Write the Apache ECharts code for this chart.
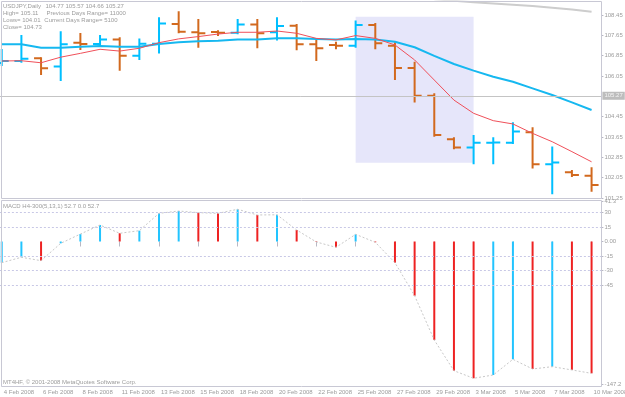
<!DOCTYPE html>
<html><head><meta charset="utf-8">
<script src="https://cdn.jsdelivr.net/npm/echarts@6/dist/echarts.min.js"></script>
<style>html,body{margin:0;padding:0;background:#fff}#c{width:625px;height:397px}</style>
</head><body><div id="c"></div>
<script>
// ---- data ----
const dates = ['4 Feb 2008','5 Feb 2008','6 Feb 2008','7 Feb 2008','8 Feb 2008','10 Feb 2008','11 Feb 2008','12 Feb 2008','13 Feb 2008','14 Feb 2008','15 Feb 2008','17 Feb 2008','18 Feb 2008','19 Feb 2008','20 Feb 2008','21 Feb 2008','22 Feb 2008','24 Feb 2008','25 Feb 2008','26 Feb 2008','27 Feb 2008','28 Feb 2008','29 Feb 2008','2 Mar 2008','3 Mar 2008','4 Mar 2008','5 Mar 2008','6 Mar 2008','7 Mar 2008','9 Mar 2008','10 Mar 2008'];
const open  = [106.56,106.64,106.75,106.42,107.36,107.31,107.49,106.85,107.32,108.10,107.77,107.78,107.75,108.08,107.77,108.03,107.30,107.27,107.24,108.06,107.24,106.36,105.27,103.56,103.23,103.42,103.42,103.83,102.57,102.26,102.12];
const high  = [107.07,107.62,106.75,107.77,107.70,107.62,107.53,107.49,108.32,108.56,108.25,107.81,108.25,108.25,108.32,108.06,107.47,107.36,108.19,108.10,107.34,106.57,105.33,103.60,103.69,103.60,104.19,103.99,103.23,102.31,102.42];
const low   = [106.48,106.61,106.13,105.89,107.11,107.29,106.29,106.72,106.97,107.77,107.20,107.66,107.73,107.18,107.49,107.10,106.68,107.14,107.20,107.14,105.93,105.04,103.70,103.20,102.61,102.61,103.41,102.45,101.43,102.11,101.53];
const close = [106.64,106.73,106.35,107.30,107.31,107.49,106.85,107.32,108.12,107.79,107.73,107.75,108.08,107.73,108.02,107.30,107.14,107.24,108.06,107.34,106.36,105.27,103.73,103.23,103.42,103.43,103.86,102.57,102.64,102.15,101.76];
const maBlue = [107.30,107.30,107.16,107.16,107.20,107.23,107.20,107.20,107.31,107.38,107.42,107.44,107.49,107.49,107.53,107.53,107.51,107.49,107.51,107.49,107.40,107.18,106.84,106.52,106.26,106.02,105.82,105.56,105.30,105.01,104.71];
const maRed  = [106.64,106.65,106.57,106.79,106.94,107.10,107.03,107.14,107.36,107.51,107.60,107.70,107.77,107.77,107.82,107.73,107.53,107.47,107.64,107.53,107.27,106.68,105.89,105.10,104.58,104.29,104.16,103.79,103.46,103.07,102.67];
const maGray = [null,null,null,null,null,null,null,null,null,null,null,null,null,null,null,null,null,null,null,null,null,null,109.07,109.01,108.95,108.90,108.85,108.80,108.74,108.67,108.58];
const macd = [-21.9,-16.3,-19.8,-1.9,7.7,17.0,8.5,11.2,29.1,31.5,29.8,29.1,33.3,27.4,27.6,11.9,-0.5,-6.0,7.4,-0.8,-21.9,-56.0,-101.8,-133.5,-141.3,-137.9,-121.7,-131.7,-129.3,-132.7,-136.2];
const signal = macd.slice(); // signal period 1
const priceTicks = [108.45,107.65,106.85,106.05,104.45,103.65,102.85,102.05,101.25];
const bidPrice = 105.27;
const macdTicks = [41.3,30,15,0,-15,-30,-45,-147.2];
const macdLevels = [30,15,-15,-30,-45];
const boxDates = ['25 Feb 2008','3 Mar 2008'];
const boxPrices = [108.38,102.63];
const headerLines = [
  ['USDJPY,Daily','104.77 105.57 104.66 105.27'],
  ['High= 105.11','Previous Days Range= 11000'],
  ['Lows= 104.01','Current Days Range= 5100'],
  ['Close= 104.73','']
];

// ---- styles ----
const BULL = '#00BFFF', BEAR = '#D2691E', TXT = '#9c9c9c', FONT = '"Liberation Sans", Arial, sans-serif';
const chart = echarts.init(document.getElementById('c'), null, {renderer:'canvas'});

const ohlc = dates.map((d,i)=>[i, open[i], high[i], low[i], close[i]]);
function renderOHLC(params, api){
  const i = api.value(0);
  const o = api.coord([i, api.value(1)]);
  const h = api.coord([i, api.value(2)]);
  const l = api.coord([i, api.value(3)]);
  const c = api.coord([i, api.value(4)]);
  const col = api.value(4) > api.value(1) ? BULL : BEAR;
  const st = {stroke: col, lineWidth: 2};
  const x = h[0], t = 7;
  return {type:'group', children:[
    {type:'line', shape:{x1:x, y1:h[1]-1, x2:x, y2:l[1]+1}, style:st},
    {type:'line', shape:{x1:x-t, y1:o[1], x2:x, y2:o[1]}, style:st},
    {type:'line', shape:{x1:x, y1:c[1], x2:x+t, y2:c[1]}, style:st}
  ]};
}

const graphics = [
  {type:'rect', shape:{x:1.5, y:1.5, width:600, height:197}, style:{fill:'none', stroke:'#c8c8d4', lineWidth:1}, z:100},
  {type:'rect', shape:{x:1.5, y:200.5, width:600, height:186}, style:{fill:'none', stroke:'#c8c8d4', lineWidth:1}, z:100},
  {type:'text', x:3, y:206.5, style:{text:'MACD H4-300(5,13,1) 52.7 0.0 52.7', fill:TXT, font:'6px '+FONT, verticalAlign:'middle'}, z:100},
  {type:'text', x:3, y:382.5, style:{text:'MT4HF, © 2001-2008 MetaQuotes Software Corp.', fill:TXT, font:'6px '+FONT, verticalAlign:'middle'}, z:100}
];
const hy = [6, 13, 20, 27.3];
const hx2 = [45.5, 46.5, 44.3, 45];
headerLines.forEach((ln,k)=>{
  graphics.push({type:'text', x:3, y:hy[k], style:{text:ln[0], fill:TXT, font:'6px '+FONT, verticalAlign:'middle'}, z:100});
  if (ln[1]) graphics.push({type:'text', x:hx2[k], y:hy[k], style:{text:ln[1], fill:TXT, font:'6px '+FONT, verticalAlign:'middle'}, z:100});
});

const gridLeft = -8.1, gridWidth = 609.5;
chart.setOption({
  backgroundColor:'#ffffff',
  animation:false,
  textStyle:{fontFamily:FONT},
  grid:[
    {left:gridLeft, width:gridWidth, top:1.5, height:197, containLabel:false, outerBoundsMode:'none'},
    {left:gridLeft, width:gridWidth, top:200.5, height:186, containLabel:false, outerBoundsMode:'none'}
  ],
  xAxis:[
    {type:'category', gridIndex:0, data:dates, boundaryGap:true, show:false},
    {type:'category', gridIndex:1, data:dates, boundaryGap:true,
     axisLine:{show:false},
     axisTick:{show:true, interval:1, alignWithLabel:true, length:5, lineStyle:{color:'#b8b8c4'}},
     axisLabel:{interval:1, align:'left', fontSize:6, color:TXT, margin:3, padding:[0,0,0,2], fontFamily:FONT, hideOverlap:false}}
  ],
  yAxis:[
    {type:'value', gridIndex:0, position:'right', min:101.2256, max:108.9815, scale:true,
     splitLine:{show:false}, axisLine:{show:false},
     axisTick:{show:true, length:2, customValues:priceTicks, lineStyle:{color:'#b8b8c4'}},
     axisLabel:{customValues:priceTicks, fontSize:6, color:TXT, margin:3, fontFamily:FONT, formatter:v=>v.toFixed(2)}},
    {type:'value', gridIndex:1, position:'right', min:-149.79, max:42.36,
     splitLine:{show:false}, axisLine:{show:false},
     axisTick:{show:true, length:2, customValues:macdTicks, lineStyle:{color:'#b8b8c4'}},
     axisLabel:{customValues:macdTicks, fontSize:6, color:TXT, margin:3, fontFamily:FONT, formatter:v=>v===0?'0.00':String(v)}}
  ],
  graphic: graphics,
  series:[
    {type:'line', name:'box', xAxisIndex:0, yAxisIndex:0, data:[], silent:true,
     markArea:{silent:true, itemStyle:{color:'#e6e6fa'}, data:[[{xAxis:boxDates[0], yAxis:boxPrices[0]},{xAxis:boxDates[1], yAxis:boxPrices[1]}]]}},
    {type:'line', name:'bid', xAxisIndex:0, yAxisIndex:0, data:[], silent:true,
     markLine:{silent:true, symbol:'none', lineStyle:{color:'#c4c4c4', width:1, type:'solid'},
       label:{show:true, position:'end', distance:1, formatter:bidPrice.toFixed(2), backgroundColor:'#bdbdbd', color:'#f4f4f4', fontSize:6, padding:[1,2,1,2], fontFamily:FONT},
       data:[{yAxis:bidPrice}]}},
    {type:'custom', name:'OHLC', xAxisIndex:0, yAxisIndex:0, data:ohlc, renderItem:renderOHLC, clip:true,
     encode:{x:0, y:[1,2,3,4]}},
    {type:'line', name:'MA slow', xAxisIndex:0, yAxisIndex:0, data:maGray, symbol:'none', clip:true,
     lineStyle:{color:'#cdcdcd', width:2}},
    {type:'line', name:'MA blue', xAxisIndex:0, yAxisIndex:0, data:maBlue, symbol:'none', clip:true,
     lineStyle:{color:'#16b8f0', width:2}},
    {type:'line', name:'MA red', xAxisIndex:0, yAxisIndex:0, data:maRed, symbol:'none', clip:true,
     lineStyle:{color:'#f0505a', width:1}},
    {type:'line', name:'Signal', xAxisIndex:1, yAxisIndex:1, data:signal, symbol:'none',
     lineStyle:{color:'#c8c8c8', width:1, type:[2,2]},
     markLine:{silent:true, symbol:'none', label:{show:false}, lineStyle:{color:'#c8c8e6', width:1, type:[2,2]},
       data: macdLevels.map(v=>({yAxis:v}))}},
    {type:'bar', name:'MACD', xAxisIndex:1, yAxisIndex:1, data:macd, barWidth:2,
     itemStyle:{color:p=> (p.dataIndex===0 || macd[p.dataIndex] >= macd[p.dataIndex-1]) ? '#22c4ff' : '#ee2222'}}
  ]
});
</script></body></html>
